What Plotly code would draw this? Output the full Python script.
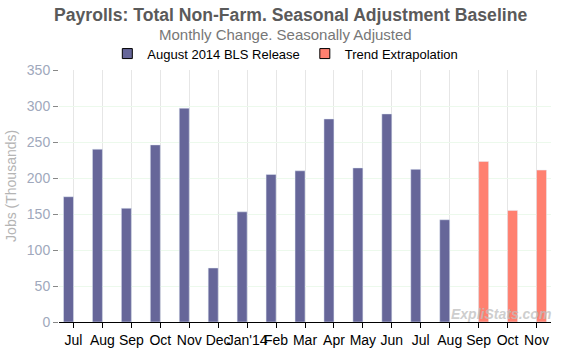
import plotly.graph_objects as go

months = ["Jul", "Aug", "Sep", "Oct", "Nov", "Dec", "Jan'14", "Feb", "Mar", "Apr",
          "May", "Jun", "Jul", "Aug", "Sep", "Oct", "Nov"]
bls_release = [174, 240, 158, 246, 297, 75, 153, 205, 210, 282, 214, 289, 212, 142,
               None, None, None]
trend_extrap = [None] * 14 + [223, 155, 211]

x = list(range(len(months)))
BLUE = "#666699"
RED = "#FF8070"
FONT = "Arial, Liberation Sans, sans-serif"

fig = go.Figure()
fig.add_trace(go.Bar(x=x, y=bls_release, marker_color=BLUE, showlegend=False,
                     name="August 2014 BLS Release"))
fig.add_trace(go.Bar(x=x, y=trend_extrap, marker_color=RED, showlegend=False,
                     name="Trend Extrapolation"))
for nm, col in [("August 2014 BLS Release", BLUE), ("Trend Extrapolation", RED)]:
    fig.add_trace(go.Scatter(x=[None], y=[None], mode="markers", name=nm,
                             marker=dict(symbol="square", size=10, color=col,
                                         line=dict(color="black", width=1))))

fig.update_layout(
    width=580, height=350,
    margin=dict(l=59, r=29, t=70, b=28, autoexpand=False),
    paper_bgcolor="white", plot_bgcolor="white",
    barmode="group", bargap=0.31, bargroupgap=0,
    font=dict(family=FONT),
    showlegend=True,
    legend=dict(orientation="h", x=0.46, xanchor="center", y=1.065, yanchor="middle",
                font=dict(size=13, color="black", family=FONT),
                itemwidth=30, bgcolor="rgba(0,0,0,0)"),
    xaxis=dict(range=[-0.5, 16.5], tickmode="array", tickvals=x, ticktext=months,
               tickangle=0, automargin=False,
               showgrid=True, gridcolor="#E6E6E6", gridwidth=1,
               showline=True, linecolor="black", linewidth=1,
               ticks="outside", ticklen=5, tickcolor="black",
               tickfont=dict(size=14, color="black", family=FONT), zeroline=False),
    yaxis=dict(range=[0, 350], tickvals=[0, 50, 100, 150, 200, 250, 300, 350],
               automargin=False,
               showgrid=True, gridcolor="#ECF9EC", gridwidth=1,
               showline=False, ticks="outside", ticklen=5, tickcolor="#888888",
               tickfont=dict(size=14, color="#A0A8BC", family=FONT), zeroline=False),
    annotations=[
        dict(text="<b>Payrolls: Total Non-Farm. Seasonal Adjustment Baseline</b>",
             xref="paper", yref="paper", x=0.4705, y=1.218, xanchor="center",
             yanchor="middle", showarrow=False,
             font=dict(size=17.6, color="#5A5A5A", family=FONT)),
        dict(text="Monthly Change. Seasonally Adjusted",
             xref="paper", yref="paper", x=0.46, y=1.139, xanchor="center",
             yanchor="middle", showarrow=False,
             font=dict(size=15, color="#777777", family=FONT)),
        dict(text="Jobs (Thousands)", textangle=-90,
             xref="paper", yref="paper", x=-0.0976, y=0.54, xanchor="center",
             yanchor="middle", showarrow=False,
             font=dict(size=14, color="#B4B4B4", family=FONT)),
        dict(text="<b><i>ExpliStats.com</i></b>",
             xref="paper", yref="paper", x=0.898, y=0.03, xanchor="center",
             yanchor="middle", showarrow=False,
             font=dict(size=14, color="rgba(190,190,190,0.75)", family=FONT)),
    ],
)

fig.write_html("out.html")
